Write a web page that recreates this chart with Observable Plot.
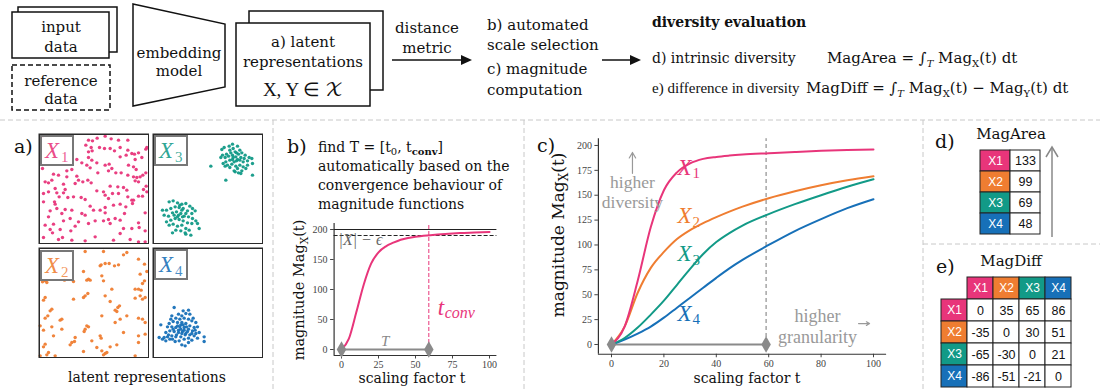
<!DOCTYPE html>
<html><head><meta charset="utf-8">
<script src="https://cdn.jsdelivr.net/npm/d3@7"></script>
<script src="https://cdn.jsdelivr.net/npm/@observablehq/plot@0.6"></script>
<style>
html,body{margin:0;padding:0;background:#fff;}
#root{position:relative;width:1100px;height:392px;overflow:hidden;background:#fff;}
#overlay{position:absolute;left:0;top:0;pointer-events:none;}
</style></head><body><div id="root"></div>
<script>
// ---------------- data ----------------
const series = ["X1","X2","X3","X4"];
const seriesColors = ["#e8357a","#ef7d31","#129a87","#1770b8"];
const tGrid = [0,5,10,15,20,25,30,35,40,45,50,60,70,80,90,100];
const magX1 = [0,18,64,118,155,173,182,186.5,188.5,189.8,190.8,192.2,193.5,194.6,195.4,196];
const magX2 = [0,18,52,77,93,106,115,122,128,133.5,138.5,147,154,160,165,169];
const magX3 = [0,6.5,17,30,44,60,76,91,103,112,119.5,131,141,150,158.5,166];
const magX4 = [0,5,11,18,27,37,47,57,67,76.5,85,100,114,126,137,146];
const magB  = [0,18,62,108,143,162,172,178,183,186,188,190.5,192.5,194,195,196];
const tConv = 59;
const setSize = 200;
const epsLevel = 190;
const magArea = [133,99,69,48];
const magDiff = [[0,35,65,86],[-35,0,30,51],[-65,-30,0,21],[-86,-51,-21,0]];
const xTicksB = [0,25,50,75,100];
const yTicksB = [0,50,100,150,200];
const xTicksC = [0,20,40,60,80,100];
const yTicksC = [0,25,50,75,100,125,150,175,200];
const labelsC = [{s:"X1",t:25.2,v:178},{s:"X2",t:25.2,v:129},{s:"X3",t:25.2,v:91},{s:"X4",t:25.2,v:31}];

const pointsX1 = [[12,8],[150,20],[162,22],[176,14],[200,8],[218,16],[240,20],[268,20],[142,35],[158,42],[183,42],[198,45],[215,45],[228,52],[245,42],[268,50],[280,60],[288,62],[300,58],[325,42],[150,55],[161,52],[115,78],[150,72],[160,80],[130,88],[175,88],[200,95],[212,92],[245,70],[263,65],[290,78],[145,95],[155,103],[100,108],[12,105],[85,112],[220,105],[285,100],[293,108],[270,95],[310,72],[322,47],[45,122],[60,125],[40,140],[30,148],[85,130],[115,128],[120,140],[133,145],[178,118],[210,112],[232,118],[248,118],[268,125],[285,130],[295,132],[305,130],[313,125],[322,118],[290,142],[300,145],[20,145],[75,152],[110,150],[148,140],[158,148],[15,180],[50,165],[55,178],[80,168],[75,178],[62,190],[48,205],[88,192],[105,190],[128,192],[140,198],[175,172],[195,175],[215,158],[238,160],[255,162],[265,170],[200,185],[210,195],[222,180],[240,180],[268,190],[280,200],[300,188],[312,188],[315,168],[325,175],[323,158],[30,175],[15,205],[50,212],[55,225],[35,232],[70,240],[80,228],[100,230],[130,240],[155,218],[165,230],[185,230],[200,222],[200,238],[225,215],[245,212],[262,220],[282,210],[285,200],[258,240],[320,238],[30,250],[95,255],[140,245],[20,275],[45,272],[35,288],[75,262],[120,265],[150,270],[170,262],[210,258],[195,262],[215,270],[230,255],[245,260],[300,268],[255,285],[280,285],[302,282],[320,292],[110,278],[15,312],[42,298],[60,318],[72,312],[100,320],[140,322],[170,310],[225,320],[245,300],[275,318],[300,325],[320,325],[97,292],[65,288]];
const pointsX2 = [[140,12],[195,12],[255,22],[265,15],[300,35],[318,50],[188,52],[200,48],[212,48],[185,55],[240,52],[228,55],[135,72],[145,98],[150,95],[155,98],[190,85],[195,100],[12,103],[20,100],[25,105],[78,98],[105,102],[325,72],[305,80],[318,100],[312,108],[220,125],[290,125],[300,125],[308,128],[148,138],[135,150],[140,145],[105,155],[20,150],[15,158],[200,145],[215,162],[290,152],[305,145],[320,150],[312,155],[40,185],[35,190],[28,205],[20,212],[230,188],[238,180],[243,175],[235,192],[265,205],[190,205],[245,215],[300,212],[312,215],[320,225],[70,215],[65,218],[145,235],[150,238],[140,245],[137,252],[230,225],[40,238],[70,245],[5,235],[15,248],[255,255],[45,265],[110,270],[185,265],[188,272],[300,265],[320,260],[235,292],[20,290],[15,298],[100,285],[108,282],[95,292],[160,280],[175,300],[30,315],[25,322],[50,325],[135,312],[190,310],[200,318],[205,315],[195,322],[215,298],[300,285],[290,325],[5,325]];
const pointsX3 = [[208,48],[215,42],[230,38],[240,32],[255,38],[262,50],[248,55],[235,58],[222,62],[210,65],[205,72],[218,72],[228,68],[240,65],[250,70],[258,62],[268,58],[278,65],[290,72],[298,75],[285,82],[272,85],[262,80],[252,82],[240,78],[232,80],[220,85],[212,90],[225,95],[238,92],[250,98],[262,95],[272,100],[280,105],[268,112],[258,118],[245,112],[255,105],[285,95],[300,90],[232,102],[218,98],[242,45],[252,58],[245,85],[265,72],[275,75],[232,50],[248,115],[300,125],[175,98],[220,140],[265,120],[242,72],[255,78],[50,205],[62,202],[75,208],[88,212],[100,210],[112,218],[120,225],[128,232],[118,240],[105,232],[92,225],[80,222],[68,220],[55,225],[42,230],[35,245],[48,248],[60,238],[72,235],[85,240],[95,248],[108,250],[120,255],[130,262],[118,270],[105,268],[92,262],[80,258],[68,255],[55,260],[42,265],[50,275],[62,272],[75,278],[88,275],[100,285],[110,290],[98,298],[85,292],[70,290],[60,298],[135,270],[140,285],[115,305],[100,302],[78,245],[88,230],[82,215],[75,250],[90,250],[65,245],[100,240],[30,230]];
const pointsX4 = [[65,180],[108,188],[92,190],[78,200],[88,205],[100,198],[112,200],[122,212],[58,205],[55,215],[70,212],[82,215],[95,212],[108,215],[118,220],[130,225],[135,238],[125,240],[112,235],[100,228],[88,225],[75,225],[62,222],[50,228],[45,238],[58,238],[70,240],[82,238],[95,240],[108,245],[120,250],[130,258],[140,255],[155,268],[25,232],[40,255],[52,250],[65,252],[78,255],[90,252],[100,258],[112,262],[125,265],[135,272],[155,282],[20,270],[30,275],[45,268],[58,265],[70,268],[85,268],[95,275],[108,272],[118,278],[80,280],[68,282],[52,275],[40,280],[88,292],[98,295],[75,235],[85,245],[95,248],[105,252],[78,248],[88,258],[98,262],[72,262],[62,245],[85,232],[92,232],[102,238],[118,258],[128,248],[48,262],[35,270],[60,275],[108,285]];

// ---------------- helpers ----------------
const root = document.getElementById("root");
function place(el, left, top) {
  el.style.position = "absolute";
  el.style.left = left + "px";
  el.style.top = top + "px";
  root.appendChild(el);
}
const serif = "Liberation Serif, serif";
const gray = "#8a8a8a";
const colorScale = {domain: series, range: seriesColors};

// ---------------- panel a: scatter ----------------
const scatterSets = [
  {pts: pointsX1, s: 0, left: 38, top: 133},
  {pts: pointsX3, s: 2, left: 152, top: 133},
  {pts: pointsX2, s: 1, left: 38, top: 247},
  {pts: pointsX4, s: 3, left: 152, top: 247}
];
for (const sc of scatterSets) {
  const p = Plot.plot({
    width: 111, height: 111, margin: 0,
    style: {background: "transparent"},
    x: {domain: [0, 333], axis: null},
    y: {domain: [0, 333], reverse: true, axis: null},
    marks: [
      Plot.dot(sc.pts, {x: d => d[0], y: d => d[1], r: 1.7, fill: seriesColors[sc.s], fillOpacity: 0.95, stroke: null}),
      Plot.frame({stroke: "#2a2a2a", strokeWidth: 1.5, inset: 0.75})
    ]
  });
  place(p, sc.left, sc.top);
}

// ---------------- panel b ----------------
const curveB = tGrid.map((t, i) => ({t, v: magB[i]}));
const spanT = [{t: 0, v: 0}, {t: tConv, v: 0}];
const chartB = Plot.plot({
  width: 257, height: 182,
  marginLeft: 63.6, marginRight: 30.6, marginTop: 13, marginBottom: 37,
  x: {domain: [-5, 105]},
  y: {domain: [-10, 210]},
  style: {fontFamily: serif, fontSize: "10px", color: "#444", background: "transparent", overflow: "visible"},
  marks: [
    Plot.axisX({ticks: xTicksB, tickSize: 3.5, tickPadding: 2, label: null, tickFormat: d => d}),
    Plot.axisY({ticks: yTicksB, tickSize: 3.5, tickPadding: 3, label: null, tickFormat: d => d}),
    Plot.ruleX([-5], {stroke: "#333", strokeWidth: 1.2}),
    Plot.ruleY([-10], {stroke: "#333", strokeWidth: 1.2}),
    Plot.ruleY([setSize], {stroke: "#222", strokeWidth: 1.2}),
    Plot.ruleY([epsLevel], {stroke: "#222", strokeWidth: 1, strokeDasharray: "4,2"}),
    Plot.ruleX([tConv], {y1: 0, y2: 210, stroke: seriesColors[0], strokeWidth: 1, strokeDasharray: "4,2"}),
    Plot.line(curveB, {x: "t", y: "v", stroke: seriesColors[0], strokeWidth: 2, curve: "monotone-x"}),
    Plot.line(spanT, {x: "t", y: "v", stroke: gray, strokeWidth: 2}),
    Plot.dot(spanT, {x: "t", y: "v", symbol: "diamond", r: 5, fill: gray, stroke: null}),
    Plot.text([{t: tConv / 2, v: 14}], {x: "t", y: "v", text: () => "T", fontFamily: serif, fontStyle: "italic", fontSize: 15, fill: "#888"}),
    Plot.text([{t: -2, v: 183}], {x: "t", y: "v", text: () => "|X| − ϵ", textAnchor: "start", fontFamily: serif, fontStyle: "italic", fontSize: 16, fill: "#666"}),
    Plot.text([{t: 65, v: 70}], {x: "t", y: "v", text: () => "t", textAnchor: "start", fontFamily: serif, fontStyle: "italic", fontSize: 23, fill: seriesColors[0]}),
    Plot.text([{t: 65, v: 70}], {x: "t", y: "v", text: () => "conv", textAnchor: "start", dx: 7, dy: 5, fontFamily: serif, fontStyle: "italic", fontSize: 16, fill: seriesColors[0]})
  ]
});
place(chartB, 270, 210);

// ---------------- panel c ----------------
const mags = [magX1, magX2, magX3, magX4];
const curveRows = series.flatMap((s, i) => tGrid.map((t, j) => ({s, t, v: mags[i][j]})));
const chartC = Plot.plot({
  width: 390, height: 267,
  marginLeft: 67.9, marginRight: 33.9, marginTop: 13.2, marginBottom: 38.25,
  x: {domain: [-5, 105]},
  y: {domain: [-9.8, 206.8]},
  color: colorScale,
  style: {fontFamily: serif, fontSize: "10px", color: "#444", background: "transparent", overflow: "visible"},
  marks: [
    Plot.axisX({ticks: xTicksC, tickSize: 3.5, tickPadding: 2, label: null, tickFormat: d => d}),
    Plot.axisY({ticks: yTicksC, tickSize: 3.5, tickPadding: 3, label: null, tickFormat: d => d}),
    Plot.ruleX([-5], {stroke: "#333", strokeWidth: 1.2}),
    Plot.ruleY([-9.8], {stroke: "#333", strokeWidth: 1.2}),
    Plot.ruleX([tConv], {y1: 0, y2: 206.8, stroke: "#777", strokeWidth: 1, strokeDasharray: "4,3"}),
    Plot.line(spanT, {x: "t", y: "v", stroke: gray, strokeWidth: 2}),
    Plot.line([...curveRows].reverse(), {x: "t", y: "v", z: "s", stroke: "s", strokeWidth: 2, curve: "monotone-x"}),
    Plot.dot(spanT, {x: "t", y: "v", symbol: "diamond", r: 5, fill: gray, stroke: null}),
    Plot.text(labelsC, {x: "t", y: "v", text: () => "X", fill: "s", textAnchor: "start", fontFamily: serif, fontStyle: "italic", fontSize: 23}),
    Plot.text(labelsC, {x: "t", y: "v", text: d => d.s.slice(1), fill: "s", textAnchor: "start", dx: 15, dy: 6, fontFamily: serif, fontSize: 15}),
    Plot.text([{t: 8, v: 163, l: "higher"}, {t: 8, v: 143, l: "diversity"}], {x: "t", y: "v", text: "l", fill: "#999", fontFamily: serif, fontSize: 17.5}),
    Plot.arrow([{x1: 8, y1: 172, x2: 8, y2: 193}], {x1: "x1", y1: "y1", x2: "x2", y2: "y2", stroke: "#999", strokeWidth: 1.2, headLength: 8}),
    Plot.text([{t: 78.6, v: 28, l: "higher"}, {t: 78.6, v: 7, l: "granularity"}], {x: "t", y: "v", text: "l", fill: "#999", fontFamily: serif, fontSize: 18}),
    Plot.arrow([{x1: 94.3, y1: 21, x2: 98.5, y2: 21}], {x1: "x1", y1: "y1", x2: "x2", y2: "y2", stroke: "#999", strokeWidth: 1.2, headLength: 7})
  ]
});
place(chartC, 530, 125);

// ---------------- panel d: MagArea table ----------------
const areaRows = series.map((s, i) => ({s, value: magArea[i]}));
const sans = "Liberation Sans, Arial, sans-serif";
const tableD = Plot.plot({
  width: 63, height: 89, margin: 1,
  x: {domain: ["name", "value"], axis: null, padding: 0},
  y: {domain: series, axis: null, padding: 0},
  color: colorScale,
  style: {background: "transparent", overflow: "visible"},
  marks: [
    Plot.cell(areaRows, {x: () => "name", y: "s", fill: "s", stroke: "#222", strokeWidth: 1}),
    Plot.cell(areaRows, {x: () => "value", y: "s", fill: "white", stroke: "#222", strokeWidth: 1}),
    Plot.text(areaRows, {x: () => "name", y: "s", text: "s", fill: "white", fontFamily: sans, fontSize: 12}),
    Plot.text(areaRows, {x: () => "value", y: "s", text: "value", fill: "#111", fontFamily: sans, fontSize: 12.5})
  ]
});
place(tableD, 978, 147);

// ---------------- panel e: MagDiff table ----------------
const diffRows = series.flatMap((r, i) => series.map((c, j) => ({r, c, value: magDiff[i][j]})));
const hdr = ["h", ...series];
const tableE = Plot.plot({
  width: 132, height: 115, margin: 1,
  x: {domain: hdr, axis: null, padding: 0},
  y: {domain: hdr, axis: null, padding: 0},
  color: colorScale,
  style: {background: "transparent", overflow: "visible"},
  marks: [
    Plot.cell(series, {x: d => d, y: () => "h", fill: d => d, stroke: "#222"}),
    Plot.cell(series, {x: () => "h", y: d => d, fill: d => d, stroke: "#222"}),
    Plot.cell(diffRows, {x: "c", y: "r", fill: "white", stroke: "#222"}),
    Plot.text(series, {x: d => d, y: () => "h", text: d => d, fill: "white", fontFamily: sans, fontSize: 12}),
    Plot.text(series, {x: () => "h", y: d => d, text: d => d, fill: "white", fontFamily: sans, fontSize: 12}),
    Plot.text(diffRows, {x: "c", y: "r", text: "value", fill: "#111", fontFamily: sans, fontSize: 12.5})
  ]
});
place(tableE, 940, 274);

// ---------------- overlay: diagram, labels, separators ----------------
const body = "DejaVu Serif, serif";
const lbox = (x, y, i) => `<rect x="${x}" y="${y}" width="32" height="29" fill="white" fill-opacity="0.85" stroke="#777" stroke-width="2"/>
  <text x="${x+4}" y="${y+22}" font-family="${serif}" font-style="italic" font-size="23" fill="${seriesColors[i]}" fill-opacity="0.9">X</text>
  <text x="${x+20}" y="${y+26}" font-family="${serif}" font-size="15" fill="${seriesColors[i]}" fill-opacity="0.8">${i+1}</text>`;
const overlay = `
<svg id="overlay" width="1100" height="392" xmlns="http://www.w3.org/2000/svg">
 <g stroke="#c8c8c8" stroke-width="1" stroke-dasharray="5,3" fill="none">
  <line x1="0" y1="120" x2="1100" y2="120"/>
  <line x1="273" y1="120" x2="273" y2="392"/>
  <line x1="524" y1="120" x2="524" y2="392"/>
  <line x1="923" y1="120" x2="923" y2="392"/>
  <line x1="923" y1="244" x2="1100" y2="244"/>
 </g>
 <g stroke="#111" stroke-width="1.5">
  <rect x="18" y="7" width="99" height="45" fill="white"/>
  <rect x="12" y="12" width="97" height="46" fill="white"/>
  <rect x="12" y="65" width="98" height="45" fill="none" stroke-dasharray="5,3"/>
  <polygon points="133,4 225,24 225,87 133,106" fill="white"/>
  <rect x="249" y="11" width="134" height="79" fill="white"/>
  <rect x="236" y="23" width="134" height="83" fill="white"/>
  <line x1="392" y1="60" x2="463" y2="60"/>
  <line x1="602" y1="60" x2="631" y2="60"/>
 </g>
 <polygon points="472,60 461,55 461,65" fill="#111"/>
 <polygon points="641,60 630,55 630,65" fill="#111"/>
 <g font-family="${body}" font-size="15" fill="#111">
  <g text-anchor="middle">
   <text x="61" y="32">input</text><text x="61" y="52">data</text>
   <text x="61" y="86">reference</text><text x="61" y="104">data</text>
   <text x="179" y="58">embedding</text><text x="179" y="76">model</text>
   <text x="303" y="47">a) latent</text><text x="303" y="67">representations</text>
   <text x="427" y="33">distance</text><text x="427" y="53">metric</text>
  </g>
  <text x="303" y="96" text-anchor="middle" font-size="19" font-family="${serif}">X, Y ∈ <tspan font-family="DejaVu Math TeX Gyre, STIX Two Math, serif">𝒳</tspan></text>
  <text x="487" y="30">b) automated</text><text x="487" y="50">scale selection</text>
  <text x="487" y="74">c) magnitude</text><text x="487" y="95">computation</text>
  <text x="652" y="27" font-weight="bold" font-size="14">diversity evaluation</text>
  <text x="652" y="63" font-size="14">d) intrinsic diversity</text>
  <text x="652" y="93" font-size="15" font-family="${serif}">e) difference in diversity</text>
  <text x="827" y="63">MagArea = ∫<tspan dy="4" font-size="10" font-style="italic">T</tspan><tspan dy="-4"> Mag</tspan><tspan dy="4" font-size="10">X</tspan><tspan dy="-4">(t) dt</tspan></text>
  <text x="806" y="93">MagDiff = ∫<tspan dy="4" font-size="10" font-style="italic">T</tspan><tspan dy="-4"> Mag</tspan><tspan dy="4" font-size="10">X</tspan><tspan dy="-4">(t) − Mag</tspan><tspan dy="4" font-size="10">Y</tspan><tspan dy="-4">(t) dt</tspan></text>

  <text x="14" y="153" font-size="19">a)</text>
  <text x="287" y="153" font-size="19">b)</text>
  <text x="537" y="152" font-size="19">c)</text>
  <text x="935" y="148" font-size="19">d)</text>
  <text x="936" y="273" font-size="19">e)</text>
  <g font-size="14">
   <text x="318" y="152">find T = [t<tspan dy="3" font-size="10">0</tspan><tspan dy="-3">, t</tspan><tspan dy="3" font-size="10" font-weight="bold">conv</tspan><tspan dy="-3">]</tspan></text>
   <text x="318" y="171">automatically based on the</text>
   <text x="318" y="190">convergence behaviour of</text>
   <text x="318" y="209">magnitude functions</text>
  </g>
  <text x="1011" y="139" text-anchor="middle">MagArea</text>
  <text x="1011" y="266" text-anchor="middle">MagDiff</text>
  <text x="147" y="382" text-anchor="middle" font-size="14">latent representations</text>
  <text x="412" y="383" text-anchor="middle" font-size="14">scaling factor t</text>
  <text x="747" y="383" text-anchor="middle" font-size="14">scaling factor t</text>
  <text transform="translate(304,290) rotate(-90)" text-anchor="middle" font-size="14.5">magnitude Mag<tspan dy="4" font-size="10.5">X</tspan><tspan dy="-4">(t)</tspan></text>
  <text transform="translate(564,235) rotate(-90)" text-anchor="middle" font-size="17">magnitude Mag<tspan dy="4" font-size="12">X</tspan><tspan dy="-4">(t)</tspan></text>
 </g>
 <g stroke="#888" stroke-width="1.5" fill="none">
  <line x1="1052" y1="237" x2="1052" y2="148"/>
  <polyline points="1046,157 1052,147 1058,157"/>
 </g>
 ${lbox(41,136,0)}${lbox(155,136,2)}${lbox(41,251,1)}${lbox(155,250,3)}
</svg>`;
root.insertAdjacentHTML("beforeend", overlay);
</script></body></html>
